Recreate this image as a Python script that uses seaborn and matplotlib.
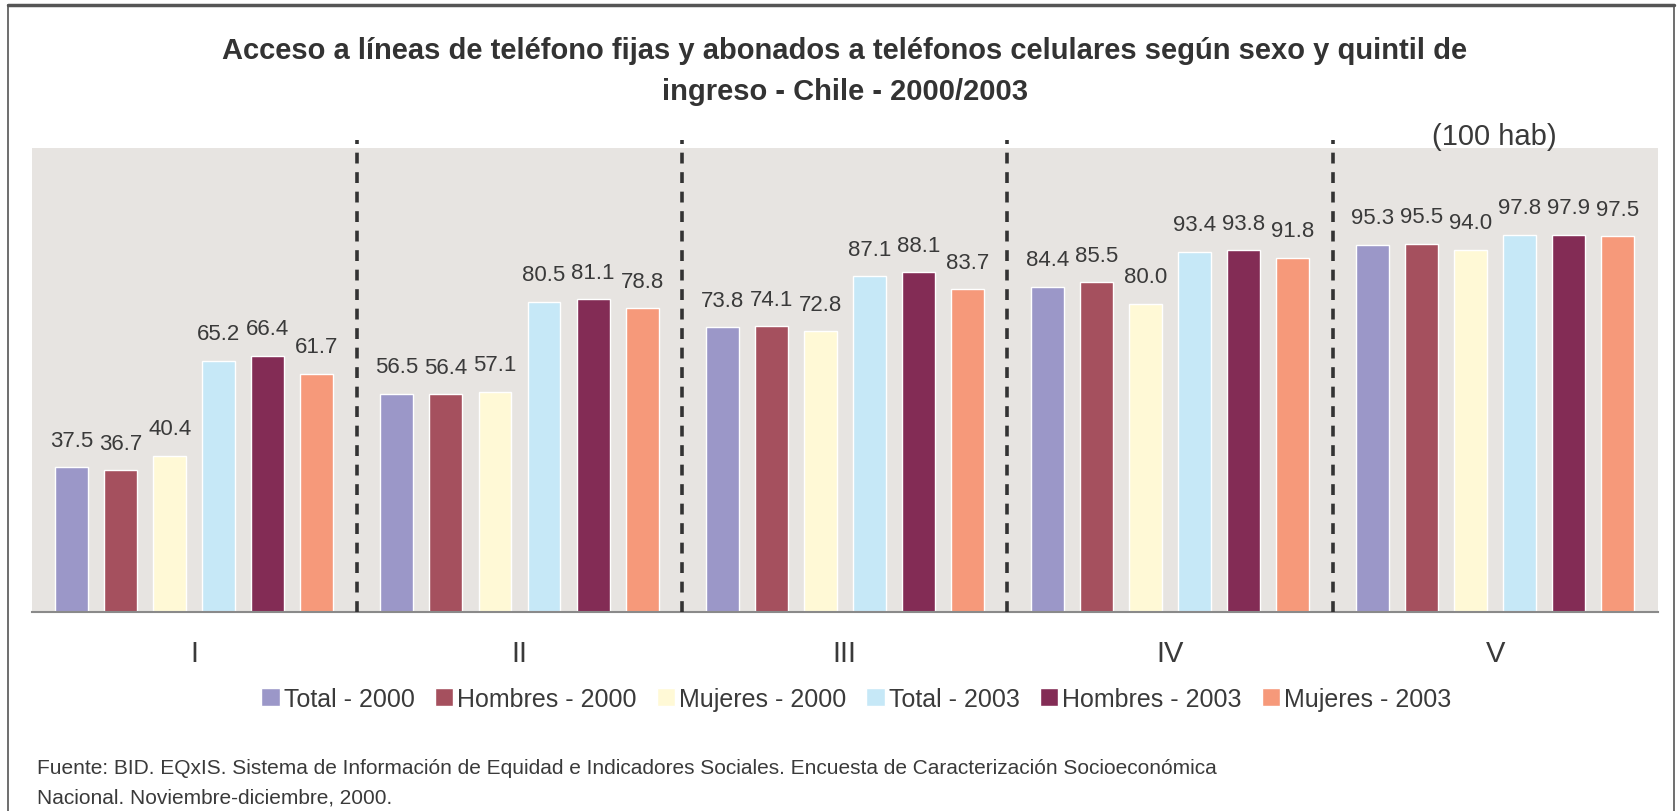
import matplotlib
matplotlib.use("Agg")
import matplotlib.pyplot as plt
import seaborn as sns
import pandas as pd
from matplotlib.lines import Line2D

quintiles = ["I", "II", "III", "IV", "V"]
series = ["Total - 2000", "Hombres - 2000", "Mujeres - 2000",
          "Total - 2003", "Hombres - 2003", "Mujeres - 2003"]
total_2000 = [37.5, 56.5, 73.8, 84.4, 95.3]
hombres_2000 = [36.7, 56.4, 74.1, 85.5, 95.5]
mujeres_2000 = [40.4, 57.1, 72.8, 80.0, 94.0]
total_2003 = [65.2, 80.5, 87.1, 93.4, 97.8]
hombres_2003 = [66.4, 81.1, 88.1, 93.8, 97.9]
mujeres_2003 = [61.7, 78.8, 83.7, 91.8, 97.5]
colors = ["#9B97C8", "#A5505E", "#FFF9D6", "#C6E8F7", "#832C55", "#F6997A"]

title = ("Acceso a líneas de teléfono fijas y abonados a teléfonos celulares según sexo y quintil de\n"
         "ingreso - Chile - 2000/2003")
unit_label = "(100 hab)"
source = ("Fuente: BID. EQxIS. Sistema de Información de Equidad e Indicadores Sociales. Encuesta de Caracterización Socioeconómica\n"
          "Nacional. Noviembre-diciembre, 2000.")

all_vals = [total_2000, hombres_2000, mujeres_2000, total_2003, hombres_2003, mujeres_2003]
rows = []
for s, vals in zip(series, all_vals):
    for q, v in zip(quintiles, vals):
        rows.append({"quintil": q, "serie": s, "valor": v})
df = pd.DataFrame(rows)

sns.set_style("white")
plt.rcParams["font.family"] = ["Liberation Sans", "DejaVu Sans"]
TXT = "#3a3a3a"

fig = plt.figure(figsize=(16.79, 8.12), dpi=100)
ax = fig.add_axes([0.0188, 0.2455, 0.9687, 0.5715])
ax.set_facecolor("#E7E4E1")

sns.barplot(data=df, x="quintil", y="valor", hue="serie", order=quintiles,
            hue_order=series, palette=colors, width=0.904, gap=0.327,
            saturation=1, ax=ax, legend=True)

for c in ax.containers:
    ax.bar_label(c, fmt="%.1f", padding=12, fontsize=16, color=TXT)

ax.set_xlim(-0.5, 4.5)
ax.set_ylim(0, 120.5)
ax.set_yticks([])
ax.set_xlabel("")
ax.set_ylabel("")
for sp in ["top", "right", "left"]:
    ax.spines[sp].set_visible(False)
ax.spines["bottom"].set_color("#8a8a8a")
ax.spines["bottom"].set_linewidth(1.5)
ax.tick_params(axis="x", which="major", length=0, labelsize=21, labelcolor=TXT, pad=20)
ax.set_xticks([-0.5, 0.5, 1.5, 2.5, 3.5, 4.5], minor=True)
ax.tick_params(axis="x", which="minor", length=9, width=1.3, color="#8a8a8a")

for xb in [0.5, 1.5, 2.5, 3.5]:
    ax.axvline(xb, ymin=0, ymax=1.016, color="#333333", lw=2.6,
               linestyle=(0, (3.0, 2.4)), clip_on=False, zorder=5)

handles, labels = ax.get_legend_handles_labels()
ax.get_legend().remove()
fig.legend(handles, labels, loc="center", bbox_to_anchor=(0.51, 0.138), ncol=6,
           frameon=False, fontsize=18, handlelength=0.75, handleheight=0.75,
           handletextpad=0.15, columnspacing=0.8, labelcolor=TXT)

fig.text(0.503, 0.912, title, ha="center", va="center", fontsize=21,
         fontweight="bold", color="#333333", linespacing=1.55)
fig.text(0.89, 0.831, unit_label, ha="center", va="center", fontsize=21, color=TXT)
fig.text(0.022, 0.0357, source, ha="left", va="center", fontsize=15,
         color=TXT, linespacing=1.7)

# outer frame
fc = "#555555"
fig.add_artist(Line2D([0.005, 0.005], [0.0, 0.992], transform=fig.transFigure, color=fc, lw=1.2))
fig.add_artist(Line2D([0.997, 0.997], [0.0, 0.992], transform=fig.transFigure, color=fc, lw=1.2))
fig.add_artist(Line2D([0.005, 0.997], [0.992, 0.992], transform=fig.transFigure, color=fc, lw=2.5))

fig.savefig("out.png", dpi=100)
